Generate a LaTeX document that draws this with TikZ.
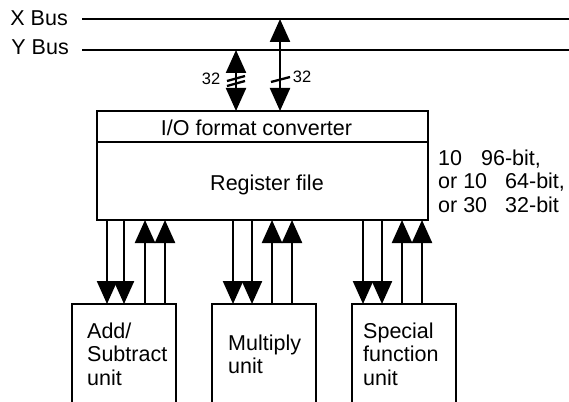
\documentclass[tikz,border=0pt]{standalone}
\usepackage{fontspec}
\setmainfont{Liberation Sans}
\usetikzlibrary{arrows.meta}
\begin{document}
\begin{tikzpicture}[x=1pt,y=-1pt,
  >={Triangle[width=20pt,length=23pt]},
  ln/.style={line width=2.3pt},
  boxst/.style={draw,line width=2.3pt,rectangle,inner sep=0pt,outer sep=0pt,anchor=north west},
  lbl/.style={font=\fontsize{21.5}{23.5}\selectfont,inner sep=0pt,align=left},
  small/.style={font=\fontsize{16.5}{18}\selectfont,inner sep=0pt}]
\useasboundingbox (0,0) rectangle (569,401);
% buses
\node[lbl,anchor=base east] (xl) at (68,26) {X Bus};
\node[lbl,anchor=base east] (yl) at (69,54.5) {Y Bus};
\coordinate (xa) at (82,19); \coordinate (xb) at (569,19);
\coordinate (ya) at (82,50); \coordinate (yb) at (569,50);
\draw[ln] (xa) -- (xb);
\draw[ln] (ya) -- (yb);
% main box
\node[boxst,minimum width=331pt,minimum height=31pt] (io) at (97,111) {};
\node[boxst,minimum width=331pt,minimum height=78pt] (rf) at (97,142) {};
\node[lbl,anchor=base] (iot) at (256.5,135) {I/O format converter};
\node[lbl,anchor=base] (rft) at (267,190) {Register file};
\node[lbl,anchor=north west] (side) at (438,149.5) {10\hspace{19pt}96-bit,\\or 10\hspace{18pt}64-bit,\\or 30\hspace{18pt}32-bit};
% bus connections
\coordinate (p1) at (236,50);
\coordinate (p2) at (280,19);
\draw[ln,<->] (p1) -- (p1 |- io.north);
\draw[ln,<->] (p2) -- (p2 |- io.north);
\coordinate (s1a) at (227,81); \coordinate (s1b) at (245,76);
\coordinate (s2a) at (227,86); \coordinate (s2b) at (245,81);
\coordinate (s3a) at (271,82); \coordinate (s3b) at (290,77);
\draw[ln] (s1a) -- (s1b);
\draw[ln] (s2a) -- (s2b);
\draw[ln] (s3a) -- (s3b);
\node[small] (n1) at (211,79) {32};
\node[small] (n2) at (302,77) {32};
% units
\node[boxst,minimum width=104pt,minimum height=115pt] (add) at (72,304) {};
\node[boxst,minimum width=104pt,minimum height=115pt] (mul) at (212,304) {};
\node[boxst,minimum width=104pt,minimum height=115pt] (sfu) at (352,304) {};
\node[lbl,anchor=north west] (addt) at (87,322.5) {Add/\\Subtract\\unit};
\node[lbl,anchor=north west] (mult) at (228,334.5) {Multiply\\unit};
\node[lbl,anchor=north west] (sfut) at (363,322.5) {Special\\function\\unit};
% unit connections
\foreach \x in {107,124} \draw[ln,->] (rf.south -| \x,0) -- (add.north -| \x,0);
\foreach \x in {145,165} \draw[ln,<-] (rf.south -| \x,0) -- (add.north -| \x,0);
\foreach \x in {233,252} \draw[ln,->] (rf.south -| \x,0) -- (mul.north -| \x,0);
\foreach \x in {272,292} \draw[ln,<-] (rf.south -| \x,0) -- (mul.north -| \x,0);
\foreach \x in {363,382} \draw[ln,->] (rf.south -| \x,0) -- (sfu.north -| \x,0);
\foreach \x in {402,422} \draw[ln,<-] (rf.south -| \x,0) -- (sfu.north -| \x,0);
\end{tikzpicture}
\end{document}
